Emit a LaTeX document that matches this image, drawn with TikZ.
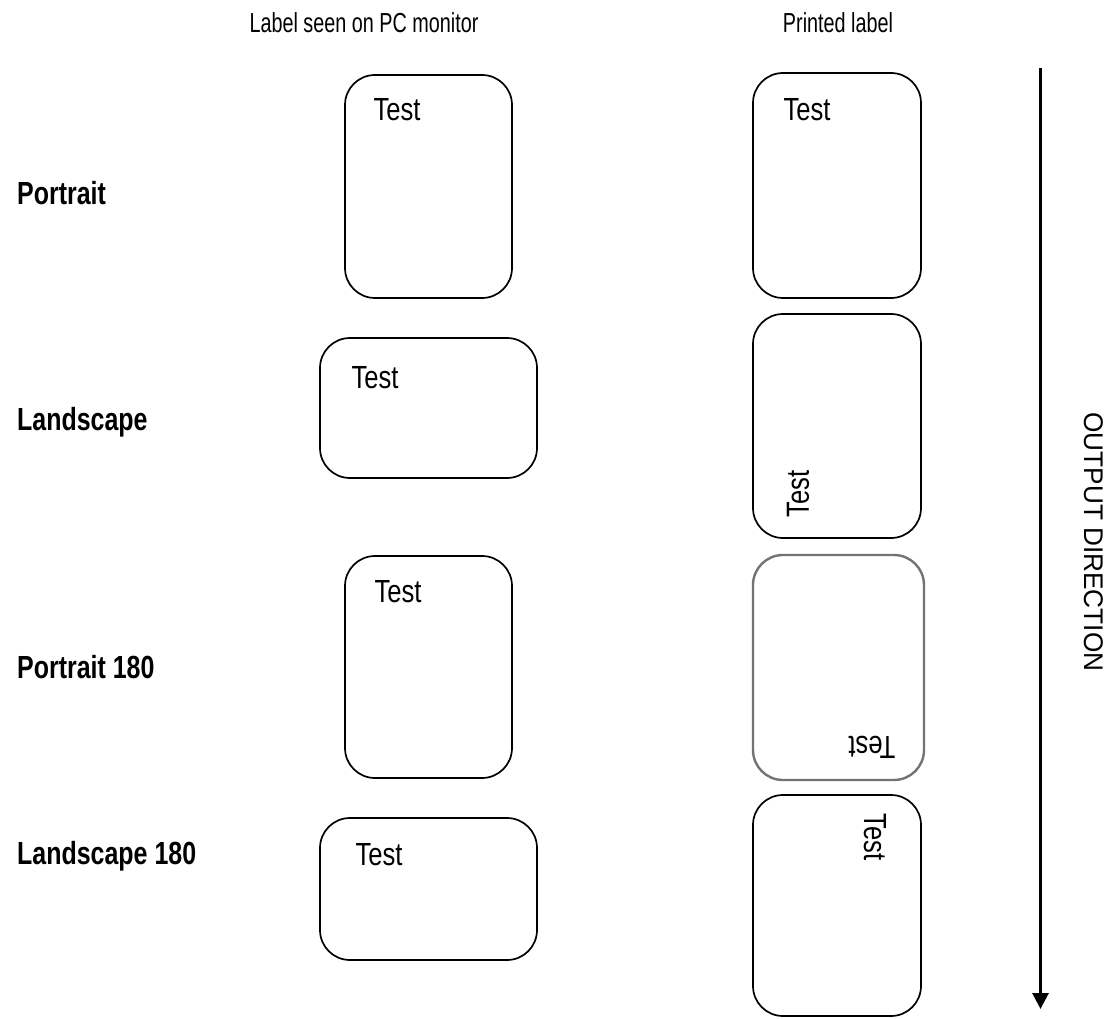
\documentclass[tikz,border=0pt]{standalone}
\usepackage{fontspec}
\setmainfont{Liberation Sans}
\usetikzlibrary{arrows.meta}
\newcommand\TestTxt{\scalebox{0.8}[1]{\fontsize{32}{38}\selectfont Test}}
\newcommand\HeadTxt[1]{\scalebox{0.72}[1]{\fontsize{27.5}{32}\selectfont #1}}
\newcommand\RowTxt[1]{\scalebox{0.78}[1]{\fontsize{32}{38}\selectfont\bfseries #1}}
\tikzset{
  lblbox/.style={draw=black, line width=1.7pt, rounded corners=30pt, inner sep=0pt},
  graybox/.style={draw=black!55, line width=2.4pt, rounded corners=30pt, inner sep=0pt},
  txt/.style={inner sep=0pt, anchor=center},
  rowlbl/.style={inner sep=0pt, anchor=base west},
  head/.style={inner sep=0pt, anchor=base},
}
\begin{document}
\begin{tikzpicture}[x=1pt,y=-1pt]
\useasboundingbox (0,0) rectangle (1117,1019);
% headings
\node[head] (h1) at (364,33) {\HeadTxt{Label seen on PC monitor}};
\node[head] (h2) at (838,33) {\HeadTxt{Printed label}};
% row labels
\node[rowlbl] (r1) at (17,205) {\RowTxt{Portrait}};
\node[rowlbl] (r2) at (17,430) {\RowTxt{Landscape}};
\node[rowlbl] (r3) at (17,678) {\RowTxt{Portrait 180}};
\node[rowlbl] (r4) at (17,864) {\RowTxt{Landscape 180}};
% left column boxes
\node[lblbox, minimum width=167pt, minimum height=223pt] (m1) at (428.5,186.5) {};
\node[lblbox, minimum width=217pt, minimum height=140pt] (m2) at (428.5,408) {};
\node[lblbox, minimum width=167pt, minimum height=222pt] (m3) at (428.5,667) {};
\node[lblbox, minimum width=217pt, minimum height=142pt] (m4) at (428.5,889) {};
\node[txt] (t1) at (397,110) {\TestTxt};
\node[txt] (t2) at (375,378) {\TestTxt};
\node[txt] (t3) at (398,592) {\TestTxt};
\node[txt] (t4) at (379,855) {\TestTxt};
% right column boxes
\node[lblbox, minimum width=168pt, minimum height=225pt] (p1) at (837,185.5) {};
\node[lblbox, minimum width=168pt, minimum height=224pt] (p2) at (837,426) {};
\node[graybox, minimum width=171pt, minimum height=225pt] (p3) at (838.5,667.5) {};
\node[lblbox, minimum width=168pt, minimum height=221pt] (p4) at (837,905.5) {};
\node[txt] (u1) at (807,110) {\TestTxt};
\node[txt, rotate=90] (u2) at (798,494) {\TestTxt};
\node[txt, rotate=180] (u3) at (872,747) {\TestTxt};
\node[txt, rotate=-90] (u4) at (875,837) {\TestTxt};
% output direction arrow
\coordinate (as) at (1040.5,68);
\coordinate (ae) at (1040.5,1009);
\draw[line width=3pt, -{Triangle[length=16pt,width=16pt]}] (as) -- (ae);
\node[txt, rotate=-90] (od) at (1094,542) {\scalebox{0.97}[1]{\fontsize{27}{32}\selectfont OUTPUT DIRECTION}};
\end{tikzpicture}
\end{document}
